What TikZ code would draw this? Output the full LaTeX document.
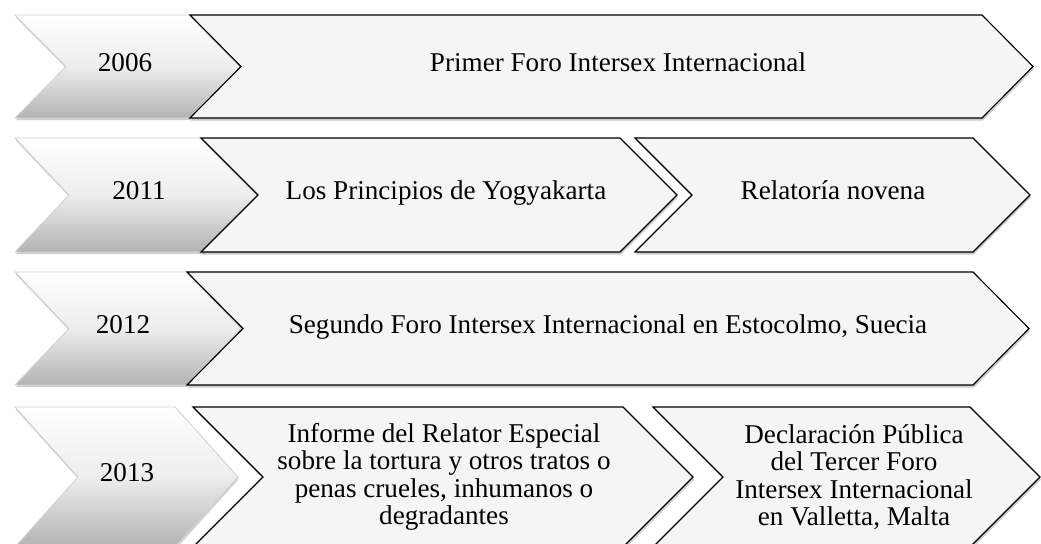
\documentclass[tikz,border=0pt]{standalone}
\usepackage{fontspec}
\setmainfont{Liberation Serif}
\usepackage{tikz}
\usetikzlibrary{calc,shadows}
\tikzset{
	yearshape/.style={shading=axis, top color=white, bottom color=black!30, middle color=black!7, draw=black!18, line width=.6pt,
		drop shadow={shadow xshift=.4pt, shadow yshift=-1.6pt, opacity=.3, fill=black!60}},
	eventshape/.style={fill=black!4, draw=black, line width=.8pt,
		drop shadow={shadow xshift=.6pt, shadow yshift=-1.8pt, opacity=.35, fill=black!60}},
	yeartext/.style={inner sep=0pt, text height=.68em, text depth=0pt},
	eventtext/.style={inner sep=0pt, align=center},
	oneline/.style={text height=.68em, text depth=0pt},
	every node/.style={font=\fontsize{19.3}{19.6}\selectfont}
}
% left, tip, top, bottom, depth of the point
\newcommand{\chevshape}[6][]{%
	\path[#1] (#2,#4) -- ({#3-#6},#4) -- (#3,{(#4+#5)/2}) -- ({#3-#6},#5) -- (#2,#5) -- ({#2+#6},{(#4+#5)/2}) -- cycle;}

\begin{document}
\begin{tikzpicture}[x=0.025cm, y=-0.025cm]
		\newcommand{\rowonetop}{15}
		\newcommand{\rowonebot}{118}
		\newcommand{\rowtwotop}{138}
		\newcommand{\rowtwobot}{252}
		\newcommand{\rowthreetop}{272}
		\newcommand{\rowthreebot}{385}
		\newcommand{\rowfourtop}{407}
		\newcommand{\rowfourbot}{547}
		\newcommand{\yearleft}{15}
		\useasboundingbox (0,0) rectangle (1041,544);
		
		% 2006
		\chevshape[yearshape]{\yearleft}{241}{\rowonetop}{\rowonebot}{51}
		\chevshape[eventshape]{190}{1033}{\rowonetop}{\rowonebot}{51}
		\node [yeartext] (y2006) at (125,{(\rowonetop+\rowonebot)/2}) {2006};
		\node [eventtext, oneline] (foro1) at (618,{(\rowonetop+\rowonebot)/2}) {Primer Foro Intersex Internacional};
		
		% 2011
		\chevshape[yearshape]{\yearleft}{258}{\rowtwotop}{\rowtwobot}{54}
		\chevshape[eventshape]{201}{677}{\rowtwotop}{\rowtwobot}{57}
		\chevshape[eventshape]{635}{1030}{\rowtwotop}{\rowtwobot}{57}
		\node [yeartext] (y2011) at (139,{(\rowtwotop+\rowtwobot)/2}) {2011};
		\node [eventtext, oneline] (yogya) at (446,{(\rowtwotop+\rowtwobot)/2}) {Los Principios de Yogyakarta};
		\node [eventtext, oneline] (relatoria) at (833,{(\rowtwotop+\rowtwobot)/2}) {Relatoría novena};
		
		% 2012
		\chevshape[yearshape]{\yearleft}{241}{\rowthreetop}{\rowthreebot}{54}
		\chevshape[eventshape]{187}{1029}{\rowthreetop}{\rowthreebot}{56}
		\node [yeartext] (y2012) at (123,{(\rowthreetop+\rowthreebot)/2}) {2012};
		\node [eventtext, oneline] (foro2) at (608,{(\rowthreetop+\rowthreebot)/2}) {Segundo Foro Intersex Internacional en Estocolmo, Suecia};
		
		% 2013
		\chevshape[yearshape]{\yearleft}{238}{\rowfourtop}{\rowfourbot}{63}
		\chevshape[eventshape]{193}{693}{\rowfourtop}{\rowfourbot}{70}
		\chevshape[eventshape]{653}{1040}{\rowfourtop}{\rowfourbot}{70}
		\node [yeartext] (y2013) at (127,477) {2013};
		\node [eventtext] (informe) at (444,477) {Informe del Relator Especial\\sobre la tortura y otros tratos o\\penas crueles, inhumanos o\\degradantes};
		\node [eventtext] (foro3) at (854,477) {Declaración Pública\\del Tercer Foro\\Intersex Internacional\\en Valletta, Malta};
		
%		\node at (520,0) {caption};
	\end{tikzpicture}
\end{document}
